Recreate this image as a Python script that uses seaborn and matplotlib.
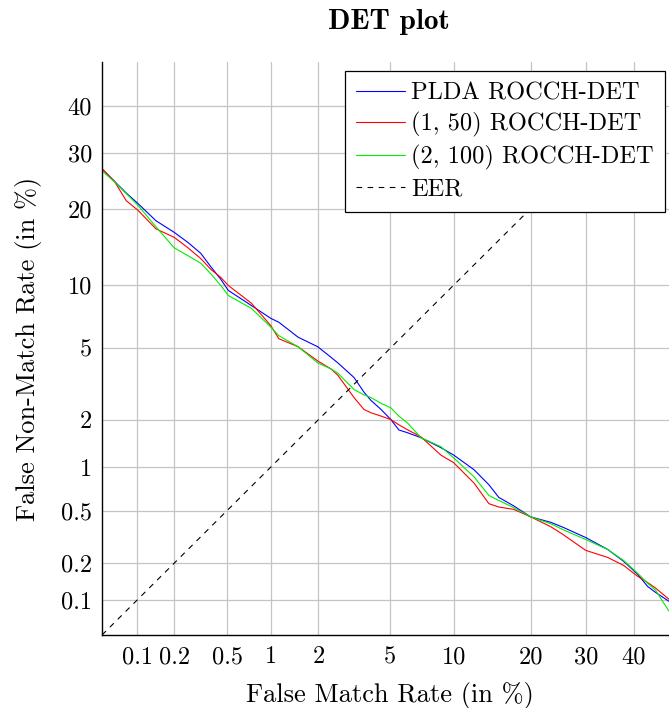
import numpy as np
import pandas as pd
import matplotlib
matplotlib.use("Agg")
import matplotlib.pyplot as plt
import seaborn as sns
from statistics import NormalDist

# ---------------- data (percent) ----------------
fmr = [0.05, 0.064, 0.081, 0.102, 0.143, 0.20, 0.256, 0.32, 0.38, 0.45, 0.51, 0.74,
       1.0, 1.13, 1.50, 1.98, 2.37, 2.60, 3.21, 3.64, 3.97, 4.49, 5.05, 5.54, 6.14,
       7.09, 8.77, 10.0, 12.2, 14.0, 15.3, 17.4, 20.0, 23.4, 25.7, 29.9, 34.4, 37.8,
       40.9, 43.1, 44.9, 47.9]

fnmr_plda = [26.97, 24.7, 22.6, 20.8, 18.1, 16.4, 15.0, 13.6, 12.0, 10.6, 9.48, 8.1,
             7.05, 6.75, 5.7, 5.1, 4.5, 4.2, 3.5, 2.9, 2.6, 2.3, 2.0, 1.73, 1.66,
             1.55, 1.34, 1.2, 0.96, 0.76, 0.62, 0.54, 0.45, 0.41, 0.375, 0.316, 0.256,
             0.207, 0.163, 0.130, 0.116, 0.098]

fnmr_1_50 = [26.97, 24.7, 21.3, 19.7, 16.9, 15.7, 14.3, 12.95, 11.7, 10.8, 9.97, 8.3,
             6.5, 5.6, 5.1, 4.3, 3.9, 3.6, 2.7, 2.3, 2.2, 2.1, 2.0, 1.86, 1.73,
             1.57, 1.2, 1.07, 0.78, 0.56, 0.53, 0.51, 0.45, 0.38, 0.33, 0.252, 0.222,
             0.192, 0.157, 0.140, 0.126, 0.102]

fnmr_2_100 = [26.6, 24.6, 22.5, 20.5, 17.2, 14.3, 13.3, 12.4, 11.2, 9.97, 9.0, 7.86,
              6.4, 5.8, 5.1, 4.2, 3.9, 3.7, 3.0, 2.8, 2.7, 2.5, 2.35, 2.1, 1.9,
              1.55, 1.36, 1.15, 0.86, 0.64, 0.59, 0.525, 0.45, 0.40, 0.36, 0.305, 0.256,
              0.21, 0.166, 0.138, 0.121, 0.081]

eer = [0.05, 50.0]

series_names = ["PLDA ROCCH-DET", "(1, 50) ROCCH-DET", "(2, 100) ROCCH-DET"]
series_colors = ["#0000ff", "#ff0000", "#00ee00"]

tick_vals = [0.1, 0.2, 0.5, 1, 2, 5, 10, 20, 30, 40]
tick_labels = ["0.1", "0.2", "0.5", "1", "2", "5", "10", "20", "30", "40"]

# ---------------- style ----------------
sns.set_theme(style="white")
plt.rcParams["font.family"] = ["cmr10", "DejaVu Serif"]
plt.rcParams["axes.formatter.use_mathtext"] = True
plt.rcParams["mathtext.fontset"] = "cm"
plt.rcParams["text.color"] = "black"
plt.rcParams["axes.labelcolor"] = "black"
plt.rcParams["xtick.labelcolor"] = "black"
plt.rcParams["ytick.labelcolor"] = "black"

_nd = NormalDist()


def _fwd(p):
    a = np.clip(np.asarray(p, dtype=float) / 100.0, 1e-12, 1 - 1e-12)
    return np.vectorize(_nd.inv_cdf, otypes=[float])(a)


def _inv(z):
    z = np.asarray(z, dtype=float)
    return np.vectorize(_nd.cdf, otypes=[float])(z) * 100.0


W, H = 669, 708
fig = plt.figure(figsize=(W / 100, H / 100), dpi=100)
ax = fig.add_axes([102 / W, 1 - 635 / H, 576 / W, (635 - 62) / H])
ax.set_xscale("function", functions=(_fwd, _inv))
ax.set_yscale("function", functions=(_fwd, _inv))

df = pd.DataFrame({
    "fmr": fmr * 3,
    "fnmr": fnmr_plda + fnmr_1_50 + fnmr_2_100,
    "system": sum([[n] * len(fmr) for n in series_names], []),
})

sns.lineplot(data=df, x="fmr", y="fnmr", hue="system", hue_order=series_names,
             palette=series_colors, estimator=None, sort=False, linewidth=0.8, ax=ax)
sns.lineplot(x=eer, y=eer, color="black", linewidth=0.8, linestyle=(0, (5, 5)),
             estimator=None, sort=False, ax=ax, label="EER")

ax.set_xlim(0.05, 50)
ax.set_ylim(0.05, 50)
ax.set_xticks(tick_vals)
ax.set_xticklabels(tick_labels)
ax.set_yticks(tick_vals)
ax.set_yticklabels(tick_labels)
ax.minorticks_off()
ax.grid(True, color="#c4c4c4", linewidth=0.9)
ax.set_axisbelow(True)
ax.tick_params(axis="both", direction="in", length=7, width=0.9, color="#888888",
               labelsize=17.5, labelcolor="black")
ax.tick_params(axis="x", pad=8)
ax.tick_params(axis="y", pad=7)
for s in ["top", "right"]:
    ax.spines[s].set_visible(False)
for s in ["left", "bottom"]:
    ax.spines[s].set_color("black")
    ax.spines[s].set_linewidth(1.0)

ax.set_xlabel("False Match Rate (in %)", fontsize=19, labelpad=10, color="black")
ax.set_ylabel("False Non-Match Rate (in %)", fontsize=19, labelpad=14, color="black")
fig.text(389 / W, 1 - 22 / H, "DET plot", ha="center", va="center",
         fontsize=21, color="black", family=["cmb10", "DejaVu Serif"])

leg = ax.legend(loc="upper right", bbox_to_anchor=(665 / W, 1 - 71 / H),
                bbox_transform=fig.transFigure, borderaxespad=0, fontsize=17.6,
                frameon=True, fancybox=False, framealpha=1, edgecolor="black",
                handlelength=2.0, handletextpad=0.25, labelspacing=0.33,
                borderpad=0.45)
leg.get_frame().set_linewidth(0.9)
for t in leg.get_texts():
    t.set_color("black")

fig.savefig("out.png", dpi=100)
